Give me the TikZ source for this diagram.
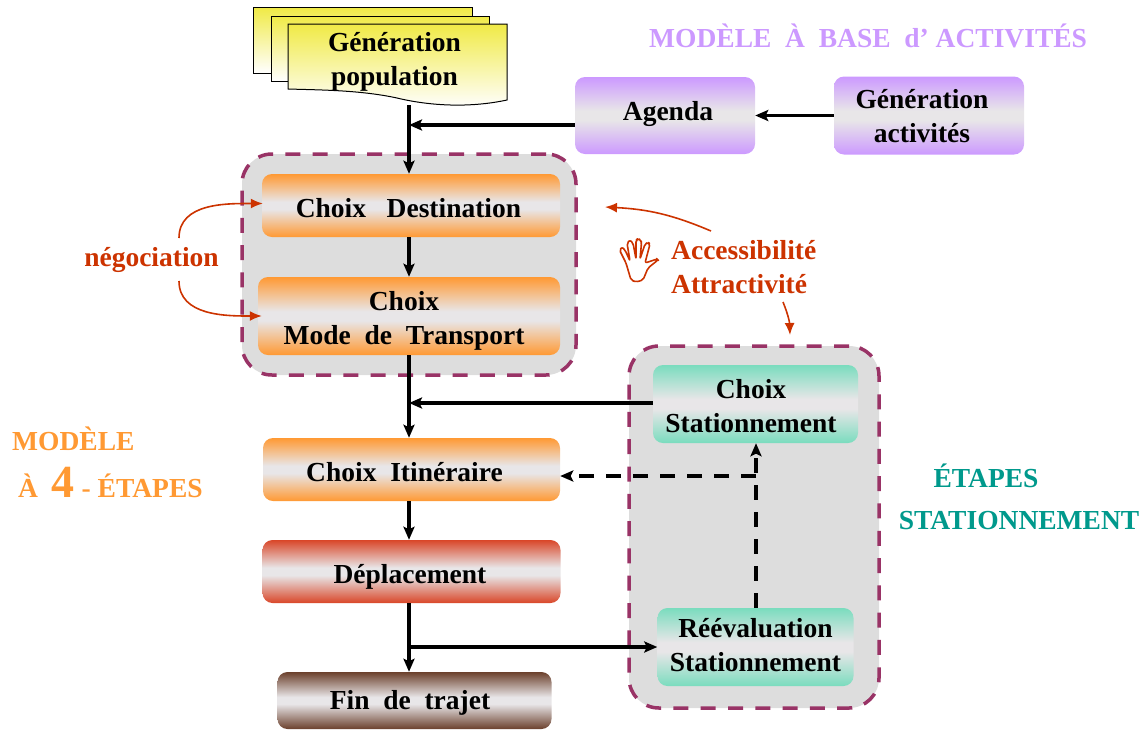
\documentclass[tikz,border=0pt]{standalone}
\usepackage{xcolor}
\usepackage{fontspec}
\setmainfont{Liberation Serif}
\usepackage{tikz}
\usetikzlibrary{arrows,arrows.meta}
\usetikzlibrary{positioning}
\definecolor{boxmid}{RGB}{232,230,232}
\definecolor{orangebox}{RGB}{255,153,51}
\definecolor{redbox}{RGB}{217,70,40}
\definecolor{brownbox}{RGB}{107,64,44}
\definecolor{purplebox}{RGB}{204,153,255}
\definecolor{tealbox}{RGB}{122,220,190}
\definecolor{yellowdoc}{RGB}{240,234,70}
\definecolor{groupdash}{RGB}{153,51,102}
\definecolor{groupfill}{RGB}{221,221,221}
\definecolor{negred}{RGB}{204,51,0}
\definecolor{tealtext}{RGB}{0,153,140}
\newcommand{\boxshade}[1]{%
  \pgfdeclareverticalshading{#1shade}{100bp}{%
    color(0bp)=(#1); color(25bp)=(#1); color(47bp)=(boxmid);
    color(53bp)=(boxmid); color(75bp)=(#1); color(100bp)=(#1)}}
\boxshade{orangebox}
\boxshade{redbox}
\boxshade{brownbox}
\boxshade{purplebox}
\boxshade{tealbox}
\tikzset{
    state/.style={
      rectangle,
      rounded corners=10pt,
      inner sep=0pt,
      text centered,
      font=\fontsize{27.5}{34}\selectfont\bfseries,
      shade,
      shading=#1shade,
    },
    drop/.style={
      text height=#1,
      text depth=0pt,
    },
    group/.style={
      rectangle,
      rounded corners=30pt,
      draw=groupdash,
      fill=groupfill,
      line width=3.5pt,
      dash pattern=on 15pt off 12.3pt,
    },
    label/.style={
      inner sep=0pt,
      font=\fontsize{27.5}{34}\selectfont\bfseries,
    },
    sheet/.style={
      draw=black,
      line width=1pt,
      top color=yellowdoc,
      bottom color=white,
    },
    flow/.style={line width=3.5pt},
    negflow/.style={line width=1.6pt,color=negred,>={Latex[length=12pt,width=10pt]}},
}
\begin{document}
\begin{tikzpicture}[x=1pt,y=-1pt,->,>={Stealth[length=13pt,width=11pt,inset=2.5pt]}]

    \useasboundingbox (0,0) rectangle (1145,729);

    \node[group,minimum width=334pt,minimum height=221pt] (GL) at (409,264.5) {};
    \node[group,minimum width=250pt,minimum height=362pt] (GR) at (754,527) {};

    \path[sheet,-] (253,7.5) rectangle (472,73);
    \path[sheet,-] (271,16) rectangle (489,81);
    \path[sheet,-] (288,24) -- (507,24) -- (507,100)
      .. controls (470,108) and (430,106) .. (397,98)
      .. controls (360,90) and (320,90) .. (288,89) -- cycle;

    \node[label] (GP) at (394.5,62)
    {
      \begin{tabular}{@{}c@{}}
        Génération \\
        population
      \end{tabular}
    };

    \node[state=orangebox,drop=24.5pt,
    minimum width=298pt,minimum height=63pt] (CD) at (411,205.5)
    {Choix\ \ \ Destination\hspace*{5pt}};

    \node[state=orangebox,drop=21.8pt,
    below of=CD,
    node distance=110.5pt,
    xshift=-2pt,
    minimum width=302pt,minimum height=78pt] (CM)
    {
      \begin{tabular}{@{}c@{\hspace{10pt}}}
        Choix \\
        Mode\ \ de\ \ Transport
      \end{tabular}
    };

    \node[state=orangebox,drop=23.5pt,
    below of=CM,
    node distance=153.5pt,
    xshift=2.5pt,
    minimum width=297pt,minimum height=63pt] (CI)
    {Choix\ \ Itinéraire\hspace*{14pt}};

    \node[state=redbox,drop=24.4pt,
    below of=CI,
    node distance=102pt,
    minimum width=298pt,minimum height=63pt] (DP)
    {Déplacement\hspace*{3pt}};

    \node[state=brownbox,drop=18.4pt,
    below of=DP,
    node distance=129pt,
    xshift=3pt,
    minimum width=274pt,minimum height=57pt] (FT)
    {Fin\ \ de\ \ trajet\hspace*{9pt}};

    \node[state=purplebox,drop=10.4pt,
    minimum width=180pt,minimum height=77pt] (AG) at (665,115.5)
    {\hspace*{6pt}Agenda};

    \node[state=purplebox,drop=19.8pt,
    right of=AG,
    node distance=264pt,
    minimum width=190pt,minimum height=78pt] (GA)
    {
      \begin{tabular}{@{}c@{\hspace{14pt}}}
        Génération \\
        activités
      \end{tabular}
    };

    \node[state=tealbox,drop=21.8pt,
    minimum width=205pt,minimum height=78pt] (CS) at (755.5,404)
    {
      \begin{tabular}{@{}c@{\hspace{9pt}}}
        Choix \\
        Stationnement
      \end{tabular}
    };

    \node[state=tealbox,drop=13.8pt,
    below of=CS,
    node distance=243pt,
    minimum width=196pt,minimum height=78pt] (RE)
    {
      \begin{tabular}{@{}c@{}}
        Réévaluation \\
        Stationnement
      \end{tabular}
    };

    \node[label,text=purplebox,anchor=west] (TA) at (649,36)
    {MODÈLE\ \ À\ \ BASE\ \ d’ ACTIVITÉS};

    \node[label,text=orangebox,anchor=west] (TM) at (12,439) {MODÈLE};
    \node[label,text=orangebox,anchor=base west] (TE) at (18,497)
    {À\ \ {\fontsize{46}{46}\selectfont 4} - ÉTAPES};

    \node[label,text=tealtext] (TS) at (986,476) {ÉTAPES};
    \node[label,text=tealtext] (TN) at (1019,521) {STATIONNEMENT};

    \node[label,text=negred] (NG) at (151.5,260) {négociation};

    \node[label,text=negred,anchor=west] (AA) at (671,270)
    {
      \begin{tabular}{@{}l@{}}
        Accessibilité \\
        Attractivité
      \end{tabular}
    };

    \draw[-,negred,line width=1.6pt,line join=round,rounded corners=2pt]
      (631,280) -- (626,263) -- (619.5,250) -- (622,247) -- (625,250) -- (630,261)
      -- (627,243) -- (630,240) -- (633,243) -- (636,259)
      -- (636,240) -- (638,238.5) -- (641,240) -- (641.5,243) -- (640,259)
      -- (645,244) -- (648,242) -- (650,244) -- (645,263)
      -- (657,259) -- (658,260) -- (648,268) -- (643,280) -- (636,282) -- cycle;

    \coordinate (GPout) at (409,105);
    \coordinate (AGin) at (409,125);
    \coordinate (CSin) at (409,403);
    \coordinate (DPout) at (409,647);
    \coordinate (CIdash) at (756,476);
    \coordinate (NGa) at (179,238);
    \coordinate (NGb) at (179,281);
    \coordinate (AAa) at (711,231);
    \coordinate (AAb) at (783,302);
    \coordinate (AAc) at (605,207);
    \coordinate (AAd) at (790,335);

    \path[flow]
    (GPout) edge (GPout |- CD.north)

    (AG.west |- AGin) edge (AGin)

    (GA) edge (AG)

    (GPout |- CD.south) edge (GPout |- CM.north)

    (GPout |- CM.south) edge (GPout |- CI.north)

    (CS.west |- CSin) edge (CSin)

    (GPout |- CI.south) edge (GPout |- DP.north)

    (GPout |- DP.south) edge (GPout |- FT.north)

    (DPout) edge (DPout -| RE.west);

    \path[flow,dash pattern=on 15pt off 12pt]
    (RE.north -| CIdash) edge (CS.south -| CIdash)

    (CIdash) edge (CIdash -| CI.east);

    \path[negflow]
    (NGa) edge[out=90,in=180] ([xshift=1pt,yshift=2pt]CD.west)

    (NGb) edge[out=-90,in=180] ([xshift=4pt]CM.west)

    (AAa) edge[out=157,in=-3] (AAc)

    (AAb) edge[bend left=10] (AAd);

\end{tikzpicture}
\end{document}
